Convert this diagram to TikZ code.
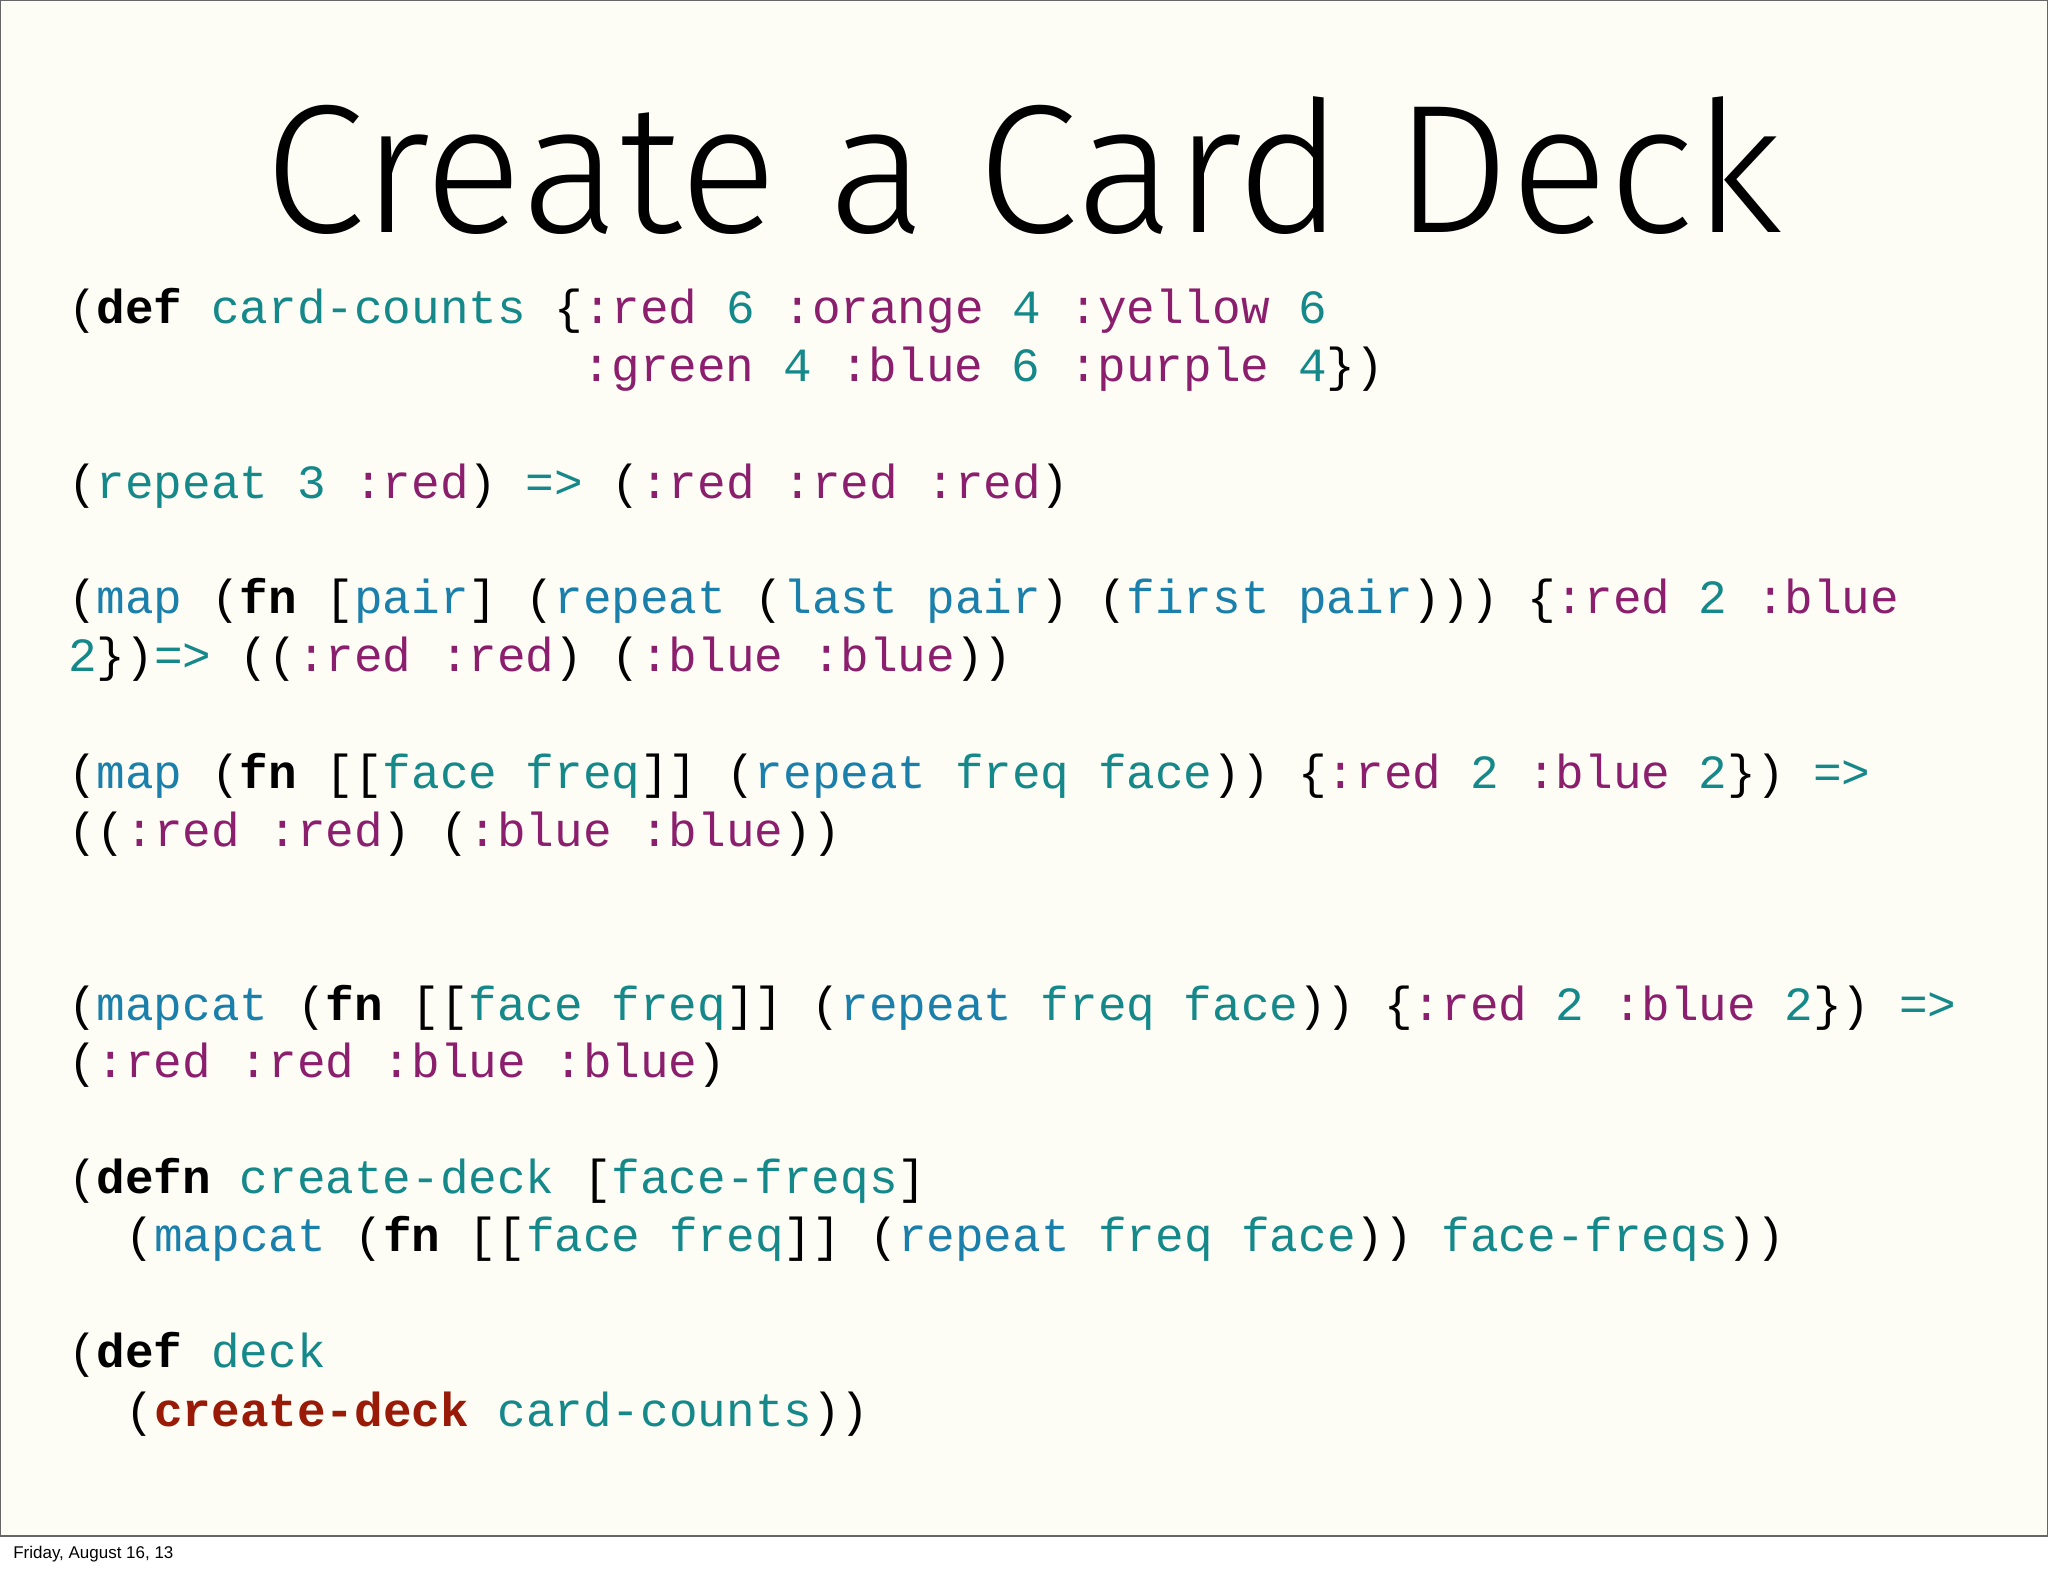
\documentclass[tikz,border=0pt]{standalone}
\usepackage{fontspec}
\newfontfamily\code{Liberation Mono}
\newfontfamily\tfont{Fira Sans Light}
\setsansfont{Liberation Sans}
\definecolor{bg}{HTML}{FDFDF5}
\definecolor{tl}{HTML}{15888A}
\definecolor{pu}{HTML}{8C1E6E}
\definecolor{bl}{HTML}{1A7FAA}
\definecolor{dr}{HTML}{9A1A08}
\newcommand\cT[1]{\textcolor{tl}{#1}}
\newcommand\cP[1]{\textcolor{pu}{#1}}
\newcommand\cB[1]{\textcolor{bl}{#1}}
\newcommand\cK[1]{\textbf{#1}}
\tikzset{codeline/.style={anchor=base west,inner sep=0pt,font=\code\fontsize{36.5}{44}\selectfont}}
\begin{document}
\begin{tikzpicture}[x=1pt,y=-1pt]
\useasboundingbox (0,0) rectangle (1568,1206);
\fill[white] (0,0) rectangle (1568,1206);
\draw[fill=bg,draw=black!60,line width=1pt] (0.5,0.5) rectangle (1567.5,1176);
\node[anchor=west,inner sep=0pt,font=\sffamily\fontsize{13}{15}\selectfont] (foot) at (10,1190) {Friday, August 16, 13};
\node[anchor=base,inner sep=0pt,font=\tfont\fontsize{140}{150}\selectfont] (title) at (784,178) {Create a Card Deck};
\node[codeline] (l1) at (52,248) {(\cK{def} \cT{card-counts} \{\cP{:red} \cT{6} \cP{:orange} \cT{4} \cP{:yellow} \cT{6}};
\node[codeline] (l2) at (446,292) {\cP{:green} \cT{4} \cP{:blue} \cT{6} \cP{:purple} \cT{4}\})};
\node[codeline] (l3) at (52,382) {(\cT{repeat} \cT{3} \cP{:red}) \cT{=>} (\cP{:red} \cP{:red} \cP{:red})};
\node[codeline] (l4) at (52,470) {(\cB{map} (\cK{fn} [\cB{pair}] (\cB{repeat} (\cB{last} \cB{pair}) (\cB{first} \cB{pair}))) \{\cP{:red} \cT{2} \cP{:blue}};
\node[codeline] (l5) at (52,514) {\cT{2}\})\cT{=>} ((\cP{:red} \cP{:red}) (\cP{:blue} \cP{:blue}))};
\node[codeline] (l6) at (52,604) {(\cB{map} (\cK{fn} [[\cT{face} \cT{freq}]] (\cB{repeat} \cT{freq} \cT{face})) \{\cP{:red} \cT{2} \cP{:blue} \cT{2}\}) \cT{=>}};
\node[codeline] (l7) at (52,648) {((\cP{:red} \cP{:red}) (\cP{:blue} \cP{:blue}))};
\node[codeline] (l8) at (52,781) {(\cB{mapcat} (\cK{fn} [[\cT{face} \cT{freq}]] (\cB{repeat} \cT{freq} \cT{face})) \{\cP{:red} \cT{2} \cP{:blue} \cT{2}\}) \cT{=>}};
\node[codeline] (l9) at (52,825) {(\cP{:red} \cP{:red} \cP{:blue} \cP{:blue})};
\node[codeline] (l10) at (52,914) {(\cK{defn} \cT{create-deck} [\cT{face-freqs}]};
\node[codeline] (l11) at (96,958) {(\cB{mapcat} (\cK{fn} [[\cT{face} \cT{freq}]] (\cB{repeat} \cT{freq} \cT{face})) \cT{face-freqs}))};
\node[codeline] (l12) at (52,1047) {(\cK{def} \cT{deck}};
\node[codeline] (l13) at (96,1092) {(\textcolor{dr}{\cK{create-deck}} \cT{card-counts}))};
\end{tikzpicture}
\end{document}
